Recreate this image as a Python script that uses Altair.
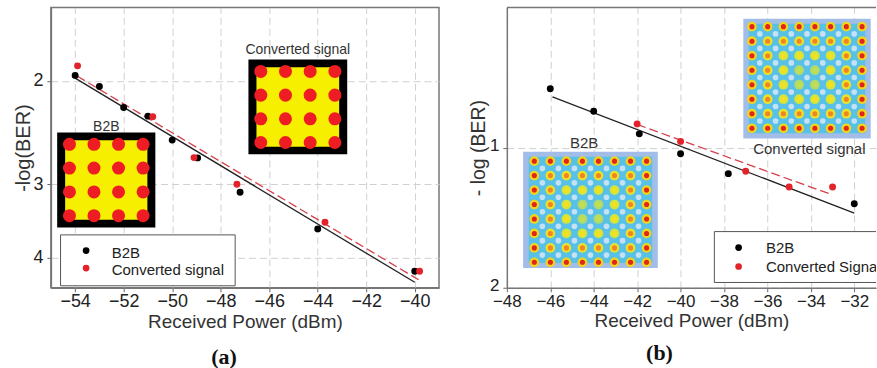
import altair as alt
import pandas as pd

# ---------------- Panel (a) data ----------------
a_b2b_x = [-54, -53, -52, -51, -50, -48.95, -47.2, -44, -40]
a_b2b_y = [1.958, 2.045, 2.221, 2.297, 2.523, 2.705, 3.095, 3.573, 4.219]
a_conv_x = [-53.9, -50.8, -49.1, -47.33, -43.7, -39.8]
a_conv_y = [1.886, 2.303, 2.702, 2.999, 3.482, 4.219]
a_fit_b2b_x = [-54, -40]
a_fit_b2b_y = [1.979, 4.405]
a_fit_conv_x = [-53.92, -39.84]
a_fit_conv_y = [1.963, 4.361]
a_x_ticks = [-54, -52, -50, -48, -46, -44, -42, -40]
a_y_ticks = [2, 3, 4]
a_series = ["B2B", "Converted signal"]

# ---------------- Panel (b) data ----------------
b_b2b_x = [-46, -44, -41.9, -40, -37.8, -32]
b_b2b_y = [0.58, 0.741, 0.902, 1.044, 1.186, 1.401]
b_conv_x = [-42, -40, -37, -35, -33]
b_conv_y = [0.831, 0.956, 1.169, 1.281, 1.281]
b_fit_b2b_x = [-45.9, -32]
b_fit_b2b_y = [0.639, 1.467]
b_fit_conv_x = [-42, -33.1]
b_fit_conv_y = [0.835, 1.332]
b_x_ticks = [-48, -46, -44, -42, -40, -38, -36, -34, -32]
b_y_ticks = [1, 2]
b_series = ["B2B", "Converted Signal"]

# constellation levels for the insets
qam16_levels = [-3, -1, 1, 3]
qam64_levels = [-7, -5, -3, -1, 1, 3, 5, 7]
qam64_gaps = [-6, -4, -2, 0, 2, 4, 6]

SANS = "Liberation Sans"
BLACK = "#000000"
RED = "#e3232a"
FRAME = "#777777"


def grid_df(levels):
    return pd.DataFrame([(i, q) for i in levels for q in levels], columns=["i", "q"])


def axis_x(values, label_size, label_pad):
    return alt.Axis(values=values, title="Received Power (dBm)", titleFont=SANS,
                    titleFontSize=19, titleFontWeight="normal", titleColor="#333",
                    labelFont=SANS, labelFontSize=label_size, labelColor="#222",
                    tickSize=4, tickColor="#666", labelPadding=label_pad, titlePadding=2,
                    grid=True, gridColor="#d0d0d0", gridDash=[7, 4], gridWidth=1,
                    domain=True, domainColor=FRAME, domainWidth=1.5,
                    labelFlush=False, labelOverlap=False, format="d")


def axis_y(values, title, label_size, title_size, title_pad, label_offset):
    return alt.Axis(values=values, title=title, titleFont=SANS,
                    titleFontSize=title_size, titleFontWeight="normal", titleColor="#333",
                    labelFont=SANS, labelFontSize=label_size, labelColor="#222",
                    tickSize=4, tickColor="#666", labelPadding=4, titlePadding=title_pad,
                    labelOffset=label_offset,
                    grid=True, gridColor="#d0d0d0", gridDash=[7, 4], gridWidth=1,
                    domain=True, domainColor=FRAME, domainWidth=1.5,
                    labelFlush=False, labelOverlap=False, format="d")


def main_layer(xs, xaxis, ys, yaxis, b2b_x, b2b_y, conv_x, conv_y,
               fb_x, fb_y, fc_x, fc_y):
    X = alt.X("x:Q", scale=xs, axis=xaxis)
    Y = alt.Y("y:Q", scale=ys, axis=yaxis)
    fb = alt.Chart(pd.DataFrame({"x": fb_x, "y": fb_y})).mark_line(
        color="#222", strokeWidth=1.3).encode(x=X, y=Y)
    fc = alt.Chart(pd.DataFrame({"x": fc_x, "y": fc_y})).mark_line(
        color="#d6404a", strokeWidth=1.3, strokeDash=[9, 4]).encode(x=X, y=Y)
    pb = alt.Chart(pd.DataFrame({"x": b2b_x, "y": b2b_y})).mark_circle(
        size=48, color=BLACK, opacity=1).encode(x=X, y=Y)
    pc = alt.Chart(pd.DataFrame({"x": conv_x, "y": conv_y})).mark_circle(
        size=48, color=RED, opacity=1).encode(x=X, y=Y)
    return alt.layer(fb, fc, pb, pc)


def qam16_inset(xr, yr, label, label_dy):
    sx = alt.Scale(domain=[-4, 4], range=xr, nice=False, zero=False)
    sy = alt.Scale(domain=[-4, 4], range=yr, nice=False, zero=False)
    one = pd.DataFrame({"k": [0]})
    bg = alt.Chart(one).mark_rect(color="#000000").encode(
        x=alt.X(datum=-4, type="quantitative", scale=sx, axis=None), x2=alt.X2(datum=4),
        y=alt.Y(datum=-4, type="quantitative", scale=sy, axis=None), y2=alt.Y2(datum=4))
    yel = alt.Chart(one).mark_rect(color="#f6ef00").encode(
        x=alt.X(datum=-3.35, type="quantitative", scale=sx, axis=None), x2=alt.X2(datum=3.35),
        y=alt.Y(datum=-3.35, type="quantitative", scale=sy, axis=None), y2=alt.Y2(datum=3.35))
    red = alt.Chart(grid_df(qam16_levels)).mark_circle(size=170, color="#ee1d23", opacity=1).encode(
        x=alt.X("i:Q", scale=sx, axis=None), y=alt.Y("q:Q", scale=sy, axis=None))
    txt = alt.Chart(one).mark_text(text=label, font=SANS, fontSize=14, color="#333",
                                   baseline="alphabetic", dy=label_dy).encode(
        x=alt.X(datum=0, type="quantitative", scale=sx, axis=None),
        y=alt.Y(datum=4, type="quantitative", scale=sy, axis=None))
    return alt.layer(bg, yel, red, txt)


HALO = "['#b3d96a','#d6e33c','#ebe12c','#f3d41c'][(datum.ring - 1) / 2]"
CORE = "['#bfe052','#f3e11e','#f2851f','#e1251c'][(datum.ring - 1) / 2]"


def qam64_inset(xd, xr, yd, yr, label, lx, ly, label_dy):
    sx = alt.Scale(domain=xd, range=xr, nice=False, zero=False)
    sy = alt.Scale(domain=yd, range=yr, nice=False, zero=False)
    one = pd.DataFrame({"k": [0]})
    outer = alt.Chart(one).mark_rect(color="#a3bde9").encode(
        x=alt.X(datum=xd[0], type="quantitative", scale=sx, axis=None), x2=alt.X2(datum=xd[1]),
        y=alt.Y(datum=yd[0], type="quantitative", scale=sy, axis=None), y2=alt.Y2(datum=yd[1]))
    inner = alt.Chart(one).mark_rect(color="#57c1e8").encode(
        x=alt.X(datum=xd[0] + 0.7, type="quantitative", scale=sx, axis=None), x2=alt.X2(datum=xd[1] - 0.7),
        y=alt.Y(datum=yd[0] + 0.7, type="quantitative", scale=sy, axis=None), y2=alt.Y2(datum=yd[1] - 0.7))
    gaps = alt.Chart(grid_df(qam64_gaps)).mark_circle(size=32, color="#d3e3f5", opacity=0.9).encode(
        x=alt.X("i:Q", scale=sx, axis=None), y=alt.Y("q:Q", scale=sy, axis=None))
    base = alt.Chart(grid_df(qam64_levels)).transform_calculate(
        ring="max(abs(datum.i), abs(datum.q))").transform_calculate(
        halo=HALO, core=CORE)
    halo = base.mark_circle(size=95, opacity=1).encode(
        x=alt.X("i:Q", scale=sx, axis=None), y=alt.Y("q:Q", scale=sy, axis=None),
        color=alt.Color("halo:N", scale=None))
    core = base.mark_circle(size=26, opacity=1).encode(
        x=alt.X("i:Q", scale=sx, axis=None), y=alt.Y("q:Q", scale=sy, axis=None),
        color=alt.Color("core:N", scale=None))
    txt = alt.Chart(one).mark_text(text=label, font=SANS, fontSize=15, color="#333",
                                   baseline="alphabetic", dy=label_dy).encode(
        x=alt.X(datum=lx, type="quantitative", scale=sx, axis=None),
        y=alt.Y(datum=ly, type="quantitative", scale=sy, axis=None))
    return alt.layer(outer, inner, gaps, halo, core, txt)


def legend_layer(series, box, dot_x, dot_y, txt_x, txt_y, clip=False, extra=None):
    one = pd.DataFrame({"k": [0]})
    rect = alt.Chart(one).mark_rect(fill="white", stroke="#555", strokeWidth=1, clip=clip).encode(
        x=alt.value(box[0]), x2=alt.value(box[1]), y=alt.value(box[2]), y2=alt.value(box[3]))
    layers = [rect]
    for name, col, dy, ty in zip(series, [BLACK, RED], dot_y, txt_y):
        layers.append(alt.Chart(one).mark_circle(size=45, color=col, opacity=1).encode(
            x=alt.value(dot_x), y=alt.value(dy)))
        layers.append(alt.Chart(one).mark_text(text=name, font=SANS, fontSize=15, color="#222",
                                               align="left", baseline="alphabetic", clip=clip).encode(
            x=alt.value(txt_x), y=alt.value(ty)))
    if extra is not None:
        layers.append(extra)
    return alt.layer(*layers)


# ---------------- Panel (a) ----------------
WA, HA = 389, 281
xa = alt.Scale(domain=[-55, -39], nice=False, zero=False)
ya = alt.Scale(type="log", domain=[1.5, 4.5], reverse=True, nice=False)
main_a = main_layer(xa, axis_x(a_x_ticks, 18, 1), ya, axis_y(a_y_ticks, "-log(BER)", 18, 20, -1, 0),
                    a_b2b_x, a_b2b_y, a_conv_x, a_conv_y,
                    a_fit_b2b_x, a_fit_b2b_y, a_fit_conv_x, a_fit_conv_y)
ins_a1 = qam16_inset([6.3, 104.7], [220.7, 125.3], "B2B", -1)
ins_a2 = qam16_inset([198, 297], [147.3, 52.3], "Converted signal", -6)
leg_a = legend_layer(a_series, [9.7, 184.7, 228, 279], 35.3, [243.7, 261.3], 61, [251.3, 268])
panel_a = alt.layer(ins_a1, ins_a2, main_a, leg_a).resolve_scale(
    x="independent", y="independent").properties(
    width=WA, height=HA, view=alt.ViewBackground(stroke=FRAME, strokeWidth=1.5),
    title=alt.TitleParams("(a)", orient="bottom", anchor="middle", frame="group", dx=-21,
                          offset=15, font="Liberation Serif", fontSize=22, fontWeight="bold",
                          color="#111"))

# ---------------- Panel (b) ----------------
WB, HB = 370, 281
xb = alt.Scale(domain=[-48, -31], nice=False, zero=False)
yb = alt.Scale(domain=[0, 2], reverse=True, nice=False, zero=False)
main_b = main_layer(xb, axis_x(b_x_ticks, 17, 2), yb, axis_y(b_y_ticks, "- log (BER)", 17, 19.5, 1, -2),
                    b_b2b_x, b_b2b_y, b_conv_x, b_conv_y,
                    b_fit_b2b_x, b_fit_b2b_y, b_fit_conv_x, b_fit_conv_y)
ins_b1 = qam64_inset([-8.4, 8.4], [16.3, 151.3], [-7.8, 8.3], [261.3, 144.7], "B2B", -0.8, 8.3, -4)
ins_b2 = qam64_inset([-8.1, 8.1], [237, 364.7], [-8.4, 8.1], [131.3, 11.3], "Converted signal", 0.3, -8.4, 16)
top_rule = alt.Chart(pd.DataFrame({"k": [0]})).mark_rule(color=FRAME, strokeWidth=1.5).encode(
    x=alt.value(0), x2=alt.value(WB), y=alt.value(0))
leg_b = legend_layer(b_series, [208, 420, 224.7, 275.7], 232.3, [240.7, 259.7], 259.7, [246.3, 264.7],
                     clip=True, extra=top_rule)
panel_b = alt.layer(ins_b1, ins_b2, main_b, leg_b).resolve_scale(
    x="independent", y="independent").properties(
    width=WB, height=HB,
    title=alt.TitleParams("(b)", orient="bottom", anchor="middle", frame="group", dx=-32,
                          offset=12, font="Liberation Serif", fontSize=22, fontWeight="bold",
                          color="#111"))

chart = alt.hconcat(panel_a, panel_b, spacing=28).properties(
    padding={"left": 13, "top": 6, "right": 0, "bottom": 0},
    background="white").configure_view(stroke=None)

chart.save("out.html", embed_options={"renderer": "svg", "actions": False})
